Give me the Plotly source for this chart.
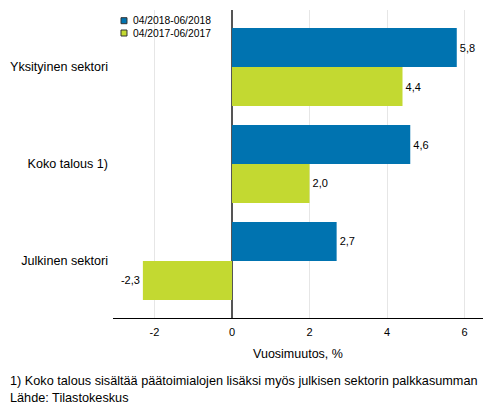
import plotly.graph_objects as go

categories = ["Yksityinen sektori", "Koko talous 1)", "Julkinen sektori"]
series_names = ["04/2018-06/2018", "04/2017-06/2017"]
values_2018 = [5.8, 4.6, 2.7]
values_2017 = [4.4, 2.0, -2.3]
x_ticks = [-2, 0, 2, 4, 6]

colors = ["#0073b0", "#c3d931"]
font = "Liberation Sans, Arial, sans-serif"

# the page body has an 8px margin, so the figure is drawn 8px smaller
W, H = 485, 408
L, R, T, B = 105, 10, 2, 98
plot_h = H - T - B


def fmt(v):
    return "{:.1f}".format(v).replace(".", ",")


def paper_y(px):
    # pixel row in the figure -> paper coordinate
    return (T + plot_h - px) / plot_h


fig = go.Figure()
for name, vals, color in zip(series_names, [values_2018, values_2017], colors):
    fig.add_trace(go.Bar(
        y=categories, x=vals, name=name, orientation="h",
        marker=dict(color=color, line=dict(width=0)),
        text=[fmt(v) for v in vals], textposition="outside",
        textfont=dict(size=11, color="#000000"), cliponaxis=False,
        showlegend=False,
    ))

# hand-made legend (compact rows like the original)
shapes = []
annotations = []
for i, (name, color) in enumerate(zip(series_names, colors)):
    top = 9.7 + i * 12.3
    shapes.append(dict(type="rect", xref="paper", yref="paper",
                       x0=0.0216, x1=0.0378,
                       y0=paper_y(top + 6), y1=paper_y(top),
                       fillcolor=color, line=dict(color="#333333", width=1)))
    annotations.append(dict(text=name, xref="paper", yref="paper",
                            x=0.049, y=paper_y(top + 3),
                            xanchor="left", yanchor="middle", showarrow=False,
                            font=dict(size=10.3)))

annotations += [
    dict(text="1) Koko talous sisältää päätoimialojen lisäksi myös julkisen sektorin palkkasumman",
         xref="paper", yref="paper", x=-L / 370, y=-63 / plot_h,
         xanchor="left", yanchor="middle", showarrow=False,
         font=dict(size=12.7)),
    dict(text="Lähde: Tilastokeskus",
         xref="paper", yref="paper", x=-L / 370, y=-80 / plot_h,
         xanchor="left", yanchor="middle", showarrow=False,
         font=dict(size=12.7)),
]

fig.update_layout(
    width=W, height=H,
    margin=dict(l=L, r=R, t=T, b=B, autoexpand=False),
    barmode="group", bargap=0.196, bargroupgap=0,
    plot_bgcolor="white", paper_bgcolor="white",
    font=dict(family=font, size=12, color="#000000"),
    showlegend=False,
    xaxis=dict(range=[-3.071, 6.477], tickvals=x_ticks,
               ticktext=[str(t) for t in x_ticks], automargin=False,
               showgrid=True, gridcolor="#e6e6e6", gridwidth=1,
               zeroline=True, zerolinecolor="#555555", zerolinewidth=1.5,
               showline=True, linecolor="#000000", linewidth=1,
               ticks="", tickfont=dict(size=11), ticklabelstandoff=4,
               title=dict(text="Vuosimuutos, %", font=dict(size=12.5), standoff=12)),
    yaxis=dict(range=[2.588, -0.588], showgrid=False, ticks="", automargin=False,
               tickfont=dict(size=12.6), ticklabelstandoff=4),
    shapes=shapes,
    annotations=annotations,
)

fig.write_html("out.html")
